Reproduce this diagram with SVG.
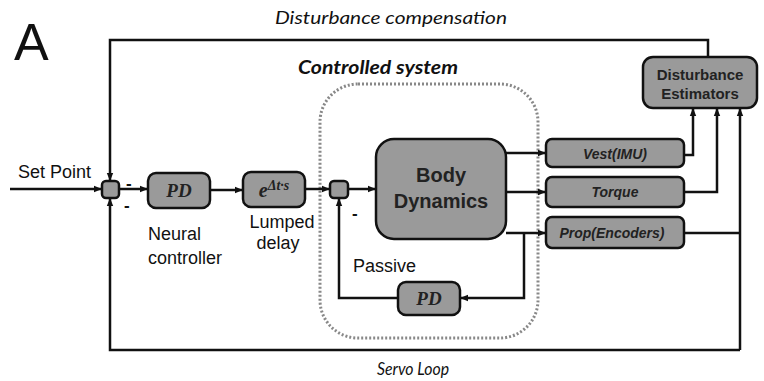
<svg xmlns="http://www.w3.org/2000/svg" width="764" height="381" viewBox="0 0 764 381">
<style>
.box{fill:#9a9a9a;stroke:#111;stroke-width:2.5}
.ln{fill:none;stroke:#111;stroke-width:2.5}
.arr{fill:none;stroke:#111;stroke-width:2.5;marker-end:url(#ah)}
.lbl{font-family:"Liberation Sans",Arial,sans-serif;font-size:18px;fill:#111}
.it{font-family:Lato,"Liberation Sans",sans-serif;font-style:italic;font-size:17px;fill:#111}
.bt{font-family:"Liberation Sans",Arial,sans-serif;font-weight:bold;fill:#222;text-anchor:middle}
.pd{font-family:"Liberation Serif","Times New Roman",serif;font-weight:bold;font-style:italic;font-size:19px;fill:#222;text-anchor:middle}
.mn{font-family:"Liberation Sans",Arial,sans-serif;font-weight:bold;font-size:17px;fill:#111}
</style>
<defs>
<marker id="ah" markerWidth="8" markerHeight="8" refX="7" refY="4" orient="auto" markerUnits="userSpaceOnUse">
<path d="M0,0.8 L8,4 L0,7.2 Z" fill="#111"/>
</marker>
</defs>
<rect width="764" height="381" fill="#fff"/>
<text x="14" y="60" font-family="Liberation Sans,Arial,sans-serif" font-size="52" fill="#111">A</text>
<text class="it" x="391" y="24" text-anchor="middle" textLength="232" lengthAdjust="spacingAndGlyphs">Disturbance compensation</text>
<text x="378" y="74" text-anchor="middle" font-family="Lato,Liberation Sans,sans-serif" font-weight="bold" font-style="italic" font-size="18" fill="#111" textLength="160" lengthAdjust="spacingAndGlyphs">Controlled system</text>
<text class="it" x="413" y="375" text-anchor="middle" textLength="72" lengthAdjust="spacingAndGlyphs">Servo Loop</text>
<rect x="320" y="84" width="218" height="254" rx="38" fill="none" stroke="#888" stroke-width="3" stroke-dasharray="2 2"/>
<g id="connectors">
<path class="arr" d="M10 189 H101"/>
<path class="arr" d="M708 57 V40 H110 V180"/>
<path class="arr" d="M740 350 H110 V199"/>
<path class="arr" d="M740 350 V109"/>
<path class="ln" d="M684 233 H740"/>
<path class="arr" d="M119 189 H147"/>
<path class="arr" d="M210 190 H242"/>
<path class="arr" d="M305 189 H329"/>
<path class="arr" d="M348 189 H375"/>
<path class="arr" d="M506 153 H545"/>
<path class="arr" d="M506 192 H545"/>
<path class="arr" d="M506 233 H545"/>
<path class="arr" d="M684 155 H693 V109"/>
<path class="arr" d="M684 192 H717 V109"/>
<path class="arr" d="M524 233 V298 H461"/>
<path class="arr" d="M398 298 H339 V199"/>
</g>
<g id="sum1"><rect class="box" x="102" y="181" width="17" height="17" rx="4"/></g>
<g id="sum2"><rect class="box" x="330" y="181" width="18" height="17" rx="4"/></g>
<g id="setpoint"><text class="lbl" x="18" y="178">Set Point</text></g>
<g id="signs">
<text class="mn" x="126" y="189">-</text>
<text class="mn" x="124" y="211">-</text>
<text class="mn" x="352" y="219">-</text>
</g>
<g id="pd1"><rect class="box" x="148" y="173" width="62" height="35" rx="8"/><text class="pd" x="179" y="197">PD</text></g>
<g id="neural"><text class="lbl" x="148" y="240">Neural</text><text class="lbl" x="148" y="264">controller</text></g>
<g id="delay"><rect class="box" x="243" y="172" width="62" height="35" rx="8"/>
<text x="274" y="197" text-anchor="middle" font-family="Liberation Serif,serif" font-style="italic" font-weight="bold" font-size="20" fill="#222">e<tspan font-size="14" dy="-7">Δt·s</tspan></text></g>
<g id="lumped"><text class="lbl" x="282" y="228" text-anchor="middle">Lumped</text><text class="lbl" x="278" y="249" text-anchor="middle">delay</text></g>
<g id="body"><rect class="box" x="376" y="139" width="130" height="100" rx="18"/>
<text class="bt" x="441" y="182" font-size="20">Body</text><text class="bt" x="441" y="208" font-size="20">Dynamics</text></g>
<g id="vest"><rect class="box" x="546" y="139" width="138" height="28" rx="6"/><text class="bt" x="615" y="159" font-size="14" font-style="italic">Vest(IMU)</text></g>
<g id="torque"><rect class="box" x="546" y="177" width="138" height="30" rx="6"/><text class="bt" x="615" y="197" font-size="14" font-style="italic">Torque</text></g>
<g id="prop"><rect class="box" x="546" y="217" width="138" height="31" rx="6"/><text class="bt" x="612" y="238" font-size="14" font-style="italic">Prop(Encoders)</text></g>
<g id="estimators"><rect class="box" x="643" y="57" width="114" height="51" rx="10"/>
<text class="bt" x="700" y="80" font-size="15">Disturbance</text><text class="bt" x="700" y="99" font-size="15">Estimators</text></g>
<g id="pd2"><rect class="box" x="398" y="282" width="62" height="33" rx="8"/><text class="pd" x="429" y="305">PD</text></g>
<g id="passive"><text class="lbl" x="353" y="272">Passive</text></g>
</svg>
